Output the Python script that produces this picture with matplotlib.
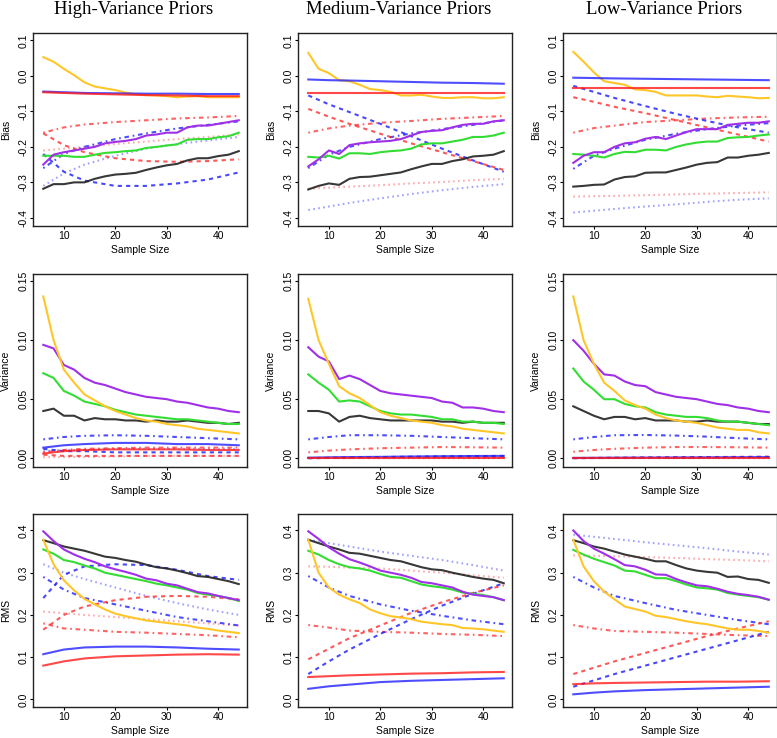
import matplotlib
matplotlib.use("Agg")
import matplotlib.pyplot as plt

plt.rcParams['font.family'] = ['Liberation Sans', 'DejaVu Sans']

# sample sizes
x_full = [6, 8, 10, 12, 14, 16, 18, 20, 22, 24, 26, 28, 30, 32, 34, 36, 38, 40, 42, 44]
x_s = [6, 10, 14, 20, 26, 32, 38, 44]   # smooth curves, read at fewer points

priors = ['hi', 'med', 'lo']
titles = ['High-Variance Priors', 'Medium-Variance Priors', 'Low-Variance Priors']
metrics = ['bias', 'var', 'rms']
ylabels = ['Bias', 'Variance', 'RMS']

# ---------------- Bias ----------------
bias_hi_gold = [0.053, 0.040, 0.020, 0.002, -0.018, -0.030, -0.035, -0.040, -0.047, -0.052, -0.054, -0.055, -0.057, -0.060, -0.058, -0.057, -0.060, -0.060, -0.060, -0.060]
bias_hi_purple = [-0.250, -0.222, -0.215, -0.210, -0.205, -0.200, -0.190, -0.186, -0.183, -0.178, -0.168, -0.165, -0.160, -0.160, -0.145, -0.140, -0.140, -0.135, -0.130, -0.125]
bias_hi_green = [-0.225, -0.225, -0.225, -0.228, -0.228, -0.222, -0.217, -0.215, -0.212, -0.210, -0.203, -0.200, -0.196, -0.193, -0.180, -0.178, -0.178, -0.173, -0.170, -0.160]
bias_hi_black = [-0.318, -0.305, -0.305, -0.300, -0.300, -0.290, -0.283, -0.278, -0.276, -0.273, -0.265, -0.258, -0.252, -0.248, -0.238, -0.232, -0.232, -0.226, -0.222, -0.212]
bias_hi_blue = [-0.044, -0.046, -0.048, -0.049, -0.050, -0.050, -0.051, -0.051]
bias_hi_red = [-0.046, -0.048, -0.050, -0.052, -0.054, -0.055, -0.057, -0.057]
bias_hi_blue_dash = [-0.220, -0.270, -0.295, -0.310, -0.310, -0.303, -0.292, -0.272]
bias_hi_red_dash = [-0.162, -0.195, -0.215, -0.232, -0.240, -0.242, -0.240, -0.235]
bias_hi_blue_dd = [-0.260, -0.220, -0.200, -0.178, -0.162, -0.148, -0.138, -0.128]
bias_hi_red_dd = [-0.160, -0.145, -0.137, -0.130, -0.125, -0.120, -0.117, -0.113]
bias_hi_blue_dot = [-0.310, -0.275, -0.250, -0.225, -0.205, -0.192, -0.182, -0.172]
bias_hi_red_dot = [-0.210, -0.205, -0.200, -0.192, -0.185, -0.178, -0.172, -0.165]

bias_med_gold = [0.065, 0.020, 0.008, -0.012, -0.015, -0.025, -0.037, -0.040, -0.045, -0.055, -0.055, -0.053, -0.058, -0.062, -0.062, -0.060, -0.060, -0.063, -0.063, -0.060]
bias_med_purple = [-0.255, -0.235, -0.210, -0.220, -0.195, -0.190, -0.187, -0.185, -0.183, -0.178, -0.168, -0.158, -0.155, -0.153, -0.145, -0.138, -0.135, -0.135, -0.128, -0.125]
bias_med_green = [-0.228, -0.230, -0.225, -0.233, -0.218, -0.218, -0.220, -0.215, -0.212, -0.210, -0.205, -0.193, -0.190, -0.190, -0.185, -0.180, -0.172, -0.172, -0.168, -0.160]
bias_med_black = [-0.320, -0.310, -0.303, -0.307, -0.290, -0.285, -0.284, -0.280, -0.276, -0.272, -0.263, -0.255, -0.248, -0.248, -0.240, -0.235, -0.227, -0.225, -0.222, -0.212]
bias_med_blue = [-0.010, -0.012, -0.013, -0.015, -0.017, -0.019, -0.020, -0.022]
bias_med_red = [-0.048, -0.048, -0.048, -0.048, -0.048, -0.048, -0.048, -0.048]
bias_med_blue_dash = [-0.055, -0.080, -0.102, -0.135, -0.170, -0.205, -0.238, -0.270]
bias_med_red_dash = [-0.093, -0.115, -0.135, -0.163, -0.190, -0.215, -0.240, -0.265]
bias_med_blue_dd = [-0.260, -0.222, -0.200, -0.178, -0.162, -0.150, -0.138, -0.125]
bias_med_red_dd = [-0.160, -0.148, -0.140, -0.132, -0.127, -0.121, -0.117, -0.113]
bias_med_blue_dot = [-0.378, -0.368, -0.358, -0.345, -0.333, -0.322, -0.313, -0.305]
bias_med_red_dot = [-0.318, -0.315, -0.312, -0.308, -0.303, -0.299, -0.294, -0.290]

bias_lo_gold = [0.068, 0.040, 0.010, -0.015, -0.020, -0.025, -0.038, -0.040, -0.045, -0.055, -0.055, -0.055, -0.055, -0.058, -0.060, -0.056, -0.058, -0.060, -0.063, -0.062]
bias_lo_purple = [-0.245, -0.225, -0.215, -0.215, -0.200, -0.190, -0.187, -0.177, -0.172, -0.178, -0.168, -0.158, -0.150, -0.150, -0.150, -0.138, -0.135, -0.132, -0.132, -0.128]
bias_lo_green = [-0.220, -0.222, -0.225, -0.230, -0.220, -0.214, -0.215, -0.208, -0.208, -0.210, -0.200, -0.193, -0.188, -0.185, -0.185, -0.175, -0.173, -0.172, -0.168, -0.165]
bias_lo_black = [-0.312, -0.310, -0.307, -0.306, -0.292, -0.285, -0.283, -0.273, -0.272, -0.272, -0.265, -0.258, -0.250, -0.245, -0.243, -0.230, -0.230, -0.225, -0.222, -0.217]
bias_lo_blue = [-0.005, -0.006, -0.007, -0.008, -0.009, -0.010, -0.011, -0.012]
bias_lo_red = [-0.034, -0.034, -0.034, -0.034, -0.034, -0.034, -0.034, -0.034]
bias_lo_blue_dash = [-0.028, -0.045, -0.062, -0.085, -0.107, -0.127, -0.145, -0.160]
bias_lo_red_dash = [-0.060, -0.073, -0.087, -0.105, -0.125, -0.145, -0.165, -0.185]
bias_lo_blue_dd = [-0.262, -0.225, -0.205, -0.180, -0.163, -0.150, -0.140, -0.133]
bias_lo_red_dd = [-0.160, -0.147, -0.140, -0.130, -0.125, -0.120, -0.117, -0.115]
bias_lo_blue_dot = [-0.385, -0.380, -0.375, -0.368, -0.362, -0.355, -0.349, -0.345]
bias_lo_red_dot = [-0.340, -0.339, -0.338, -0.336, -0.334, -0.332, -0.330, -0.328]

# ---------------- Variance ----------------
var_hi_gold = [0.137, 0.100, 0.075, 0.064, 0.054, 0.049, 0.044, 0.040, 0.037, 0.034, 0.032, 0.031, 0.029, 0.028, 0.027, 0.025, 0.024, 0.023, 0.022, 0.021]
var_hi_purple = [0.096, 0.093, 0.079, 0.075, 0.068, 0.064, 0.062, 0.059, 0.056, 0.054, 0.052, 0.051, 0.050, 0.048, 0.047, 0.045, 0.043, 0.042, 0.040, 0.039]
var_hi_green = [0.072, 0.068, 0.057, 0.053, 0.048, 0.046, 0.044, 0.041, 0.039, 0.037, 0.036, 0.035, 0.034, 0.033, 0.033, 0.032, 0.031, 0.030, 0.029, 0.029]
var_hi_black = [0.040, 0.042, 0.036, 0.036, 0.032, 0.034, 0.033, 0.033, 0.032, 0.032, 0.031, 0.032, 0.031, 0.031, 0.032, 0.031, 0.030, 0.030, 0.029, 0.030]
var_hi_blue = [0.009, 0.011, 0.012, 0.013, 0.013, 0.012, 0.012, 0.011]
var_hi_red = [0.004, 0.006, 0.007, 0.0075, 0.0075, 0.0075, 0.007, 0.007]
var_hi_blue_dash = [0.008, 0.006, 0.006, 0.005, 0.005, 0.005, 0.005, 0.005]
var_hi_red_dash = [0.003, 0.002, 0.002, 0.002, 0.002, 0.002, 0.002, 0.002]
var_hi_blue_dd = [0.016, 0.018, 0.019, 0.0195, 0.019, 0.018, 0.017, 0.016]
var_hi_red_dd = [0.005, 0.007, 0.008, 0.0085, 0.009, 0.009, 0.009, 0.009]
var_hi_blue_dot = [0.006, 0.007, 0.007, 0.008, 0.008, 0.008, 0.008, 0.008]
var_hi_red_dot = [0.001, 0.001, 0.001, 0.0015, 0.002, 0.002, 0.002, 0.002]

var_med_gold = [0.135, 0.100, 0.080, 0.061, 0.055, 0.051, 0.045, 0.039, 0.036, 0.034, 0.032, 0.031, 0.030, 0.028, 0.027, 0.025, 0.024, 0.023, 0.022, 0.021]
var_med_purple = [0.094, 0.086, 0.082, 0.067, 0.070, 0.067, 0.062, 0.057, 0.055, 0.054, 0.053, 0.052, 0.051, 0.048, 0.047, 0.043, 0.043, 0.042, 0.040, 0.039]
var_med_green = [0.071, 0.064, 0.058, 0.048, 0.049, 0.048, 0.044, 0.040, 0.038, 0.037, 0.037, 0.036, 0.035, 0.033, 0.033, 0.031, 0.031, 0.030, 0.030, 0.029]
var_med_black = [0.040, 0.040, 0.038, 0.031, 0.035, 0.036, 0.034, 0.033, 0.032, 0.032, 0.032, 0.032, 0.032, 0.031, 0.031, 0.030, 0.031, 0.030, 0.030, 0.030]
var_med_blue = [0.0005, 0.0008, 0.0010, 0.0012, 0.0015, 0.0017, 0.0019, 0.0020]
var_med_red = [0.0003, 0.0003, 0.0003, 0.0003, 0.0003, 0.0003, 0.0003, 0.0003]
var_med_blue_dash = [0.0000, 0.0003, 0.0006, 0.0010, 0.0013, 0.0016, 0.0018, 0.0020]
var_med_red_dash = [0.0002, 0.0004, 0.0006, 0.0008, 0.0010, 0.0011, 0.0012, 0.0013]
var_med_blue_dd = [0.016, 0.018, 0.0195, 0.0195, 0.019, 0.018, 0.017, 0.016]
var_med_red_dd = [0.005, 0.0065, 0.0075, 0.0085, 0.009, 0.0095, 0.0093, 0.009]
var_med_blue_dot = [0.0001, 0.0001, 0.0001, 0.0001, 0.0001, 0.0001, 0.0001, 0.0001]
var_med_red_dot = [0.0001, 0.0001, 0.0001, 0.0001, 0.0001, 0.0001, 0.0001, 0.0001]

var_lo_gold = [0.137, 0.100, 0.080, 0.064, 0.057, 0.049, 0.045, 0.042, 0.037, 0.034, 0.032, 0.031, 0.030, 0.028, 0.026, 0.025, 0.024, 0.024, 0.022, 0.021]
var_lo_purple = [0.100, 0.091, 0.080, 0.071, 0.070, 0.065, 0.062, 0.061, 0.056, 0.054, 0.052, 0.051, 0.050, 0.048, 0.046, 0.045, 0.043, 0.042, 0.040, 0.039]
var_lo_green = [0.076, 0.065, 0.058, 0.050, 0.050, 0.046, 0.044, 0.043, 0.039, 0.037, 0.036, 0.035, 0.035, 0.034, 0.032, 0.031, 0.031, 0.030, 0.029, 0.028]
var_lo_black = [0.044, 0.040, 0.036, 0.033, 0.035, 0.035, 0.033, 0.034, 0.032, 0.032, 0.032, 0.031, 0.031, 0.032, 0.031, 0.031, 0.031, 0.030, 0.029, 0.029]
var_lo_blue = [0.0003, 0.0004, 0.0005, 0.0006, 0.0007, 0.0008, 0.0009, 0.0010]
var_lo_red = [0.0001, 0.0001, 0.0001, 0.0001, 0.0001, 0.0001, 0.0001, 0.0001]
var_lo_blue_dash = [0.0000, 0.0002, 0.0003, 0.0005, 0.0007, 0.0009, 0.0010, 0.0012]
var_lo_red_dash = [0.0002, 0.0003, 0.0004, 0.0006, 0.0008, 0.0010, 0.0012, 0.0013]
var_lo_blue_dd = [0.016, 0.018, 0.0195, 0.0197, 0.0192, 0.0183, 0.017, 0.016]
var_lo_red_dd = [0.0055, 0.007, 0.008, 0.009, 0.0095, 0.0095, 0.0093, 0.009]
var_lo_blue_dot = [0.0001, 0.0001, 0.0001, 0.0001, 0.0001, 0.0001, 0.0001, 0.0001]
var_lo_red_dot = [0.0001, 0.0001, 0.0001, 0.0001, 0.0001, 0.0001, 0.0001, 0.0001]

# ---------------- RMS ----------------
rms_hi_gold = [0.378, 0.320, 0.282, 0.258, 0.238, 0.225, 0.213, 0.203, 0.197, 0.192, 0.187, 0.184, 0.181, 0.178, 0.175, 0.170, 0.167, 0.163, 0.160, 0.157]
rms_hi_purple = [0.398, 0.375, 0.355, 0.343, 0.333, 0.325, 0.315, 0.308, 0.302, 0.295, 0.286, 0.282, 0.274, 0.270, 0.262, 0.254, 0.251, 0.245, 0.240, 0.235]
rms_hi_green = [0.355, 0.345, 0.330, 0.325, 0.317, 0.310, 0.300, 0.295, 0.290, 0.285, 0.280, 0.274, 0.270, 0.265, 0.260, 0.252, 0.248, 0.245, 0.240, 0.233]
rms_hi_black = [0.377, 0.370, 0.362, 0.357, 0.352, 0.345, 0.338, 0.335, 0.330, 0.326, 0.319, 0.313, 0.310, 0.305, 0.299, 0.292, 0.290, 0.285, 0.280, 0.273]
rms_hi_blue = [0.107, 0.118, 0.123, 0.125, 0.125, 0.123, 0.120, 0.118]
rms_hi_red = [0.080, 0.090, 0.097, 0.102, 0.104, 0.106, 0.107, 0.106]
rms_hi_blue_dash = [0.240, 0.295, 0.315, 0.320, 0.318, 0.307, 0.292, 0.283]
rms_hi_red_dash = [0.165, 0.200, 0.220, 0.235, 0.243, 0.245, 0.243, 0.237]
rms_hi_blue_dd = [0.290, 0.260, 0.240, 0.225, 0.210, 0.195, 0.185, 0.175]
rms_hi_red_dd = [0.180, 0.168, 0.165, 0.160, 0.158, 0.155, 0.152, 0.147]
rms_hi_blue_dot = [0.320, 0.300, 0.285, 0.265, 0.245, 0.228, 0.213, 0.200]
rms_hi_red_dot = [0.208, 0.204, 0.200, 0.195, 0.190, 0.185, 0.180, 0.175]

rms_med_gold = [0.378, 0.300, 0.265, 0.248, 0.237, 0.228, 0.213, 0.204, 0.197, 0.194, 0.190, 0.184, 0.181, 0.178, 0.176, 0.169, 0.168, 0.166, 0.163, 0.160]
rms_med_purple = [0.398, 0.380, 0.360, 0.345, 0.332, 0.324, 0.315, 0.305, 0.300, 0.295, 0.288, 0.278, 0.275, 0.270, 0.265, 0.255, 0.248, 0.245, 0.242, 0.235]
rms_med_green = [0.352, 0.343, 0.330, 0.320, 0.313, 0.310, 0.305, 0.297, 0.290, 0.288, 0.280, 0.272, 0.268, 0.265, 0.260, 0.253, 0.250, 0.247, 0.242, 0.235]
rms_med_black = [0.378, 0.370, 0.362, 0.355, 0.347, 0.345, 0.340, 0.335, 0.330, 0.327, 0.320, 0.313, 0.308, 0.306, 0.300, 0.295, 0.290, 0.286, 0.283, 0.275]
rms_med_blue = [0.025, 0.031, 0.035, 0.041, 0.044, 0.046, 0.048, 0.050]
rms_med_red = [0.053, 0.055, 0.057, 0.059, 0.061, 0.062, 0.064, 0.065]
rms_med_blue_dash = [0.060, 0.090, 0.118, 0.155, 0.190, 0.222, 0.250, 0.275]
rms_med_red_dash = [0.095, 0.120, 0.145, 0.175, 0.205, 0.230, 0.252, 0.270]
rms_med_blue_dd = [0.292, 0.265, 0.245, 0.225, 0.210, 0.198, 0.187, 0.178]
rms_med_red_dd = [0.176, 0.170, 0.163, 0.160, 0.158, 0.155, 0.153, 0.150]
rms_med_blue_dot = [0.378, 0.370, 0.362, 0.350, 0.340, 0.330, 0.318, 0.305]
rms_med_red_dot = [0.315, 0.314, 0.312, 0.310, 0.305, 0.300, 0.294, 0.288]

rms_lo_gold = [0.378, 0.315, 0.280, 0.255, 0.237, 0.220, 0.214, 0.208, 0.198, 0.195, 0.190, 0.185, 0.181, 0.178, 0.173, 0.168, 0.165, 0.165, 0.162, 0.158]
rms_lo_purple = [0.400, 0.375, 0.357, 0.345, 0.332, 0.318, 0.315, 0.307, 0.296, 0.295, 0.285, 0.277, 0.270, 0.268, 0.262, 0.255, 0.250, 0.247, 0.243, 0.236]
rms_lo_green = [0.354, 0.343, 0.333, 0.325, 0.317, 0.305, 0.303, 0.295, 0.287, 0.287, 0.280, 0.272, 0.265, 0.263, 0.260, 0.252, 0.248, 0.245, 0.242, 0.236]
rms_lo_black = [0.377, 0.370, 0.362, 0.357, 0.350, 0.343, 0.338, 0.333, 0.327, 0.327, 0.318, 0.310, 0.305, 0.302, 0.300, 0.290, 0.291, 0.285, 0.283, 0.276]
rms_lo_blue = [0.012, 0.016, 0.019, 0.022, 0.024, 0.026, 0.028, 0.030]
rms_lo_red = [0.036, 0.038, 0.039, 0.040, 0.041, 0.042, 0.042, 0.043]
rms_lo_blue_dash = [0.030, 0.045, 0.060, 0.080, 0.100, 0.120, 0.140, 0.160]
rms_lo_red_dash = [0.060, 0.075, 0.090, 0.110, 0.130, 0.150, 0.168, 0.185]
rms_lo_blue_dd = [0.290, 0.265, 0.245, 0.228, 0.212, 0.200, 0.188, 0.178]
rms_lo_red_dd = [0.176, 0.168, 0.162, 0.160, 0.158, 0.155, 0.152, 0.150]
rms_lo_blue_dot = [0.390, 0.385, 0.380, 0.372, 0.365, 0.358, 0.350, 0.343]
rms_lo_red_dot = [0.341, 0.340, 0.339, 0.337, 0.335, 0.332, 0.330, 0.327]

# line styles: name -> (colour, dash pattern, alpha)
styles = {
    'blue_dot':  ('#5555ff', (0, (0.8, 1.6)), 0.55),
    'red_dot':   ('#ff4444', (0, (0.8, 1.6)), 0.45),
    'blue_dd':   ('#2222ff', (0, (0.8, 1.8, 2.2, 1.8)), 0.8),
    'red_dd':    ('#ff2222', (0, (0.8, 1.8, 2.2, 1.8)), 0.7),
    'blue_dash': ('#1a1aff', (0, (2.0, 2.0)), 0.8),
    'red_dash':  ('#ff2020', (0, (2.0, 2.0)), 0.75),
    'black':     ('#222222', '-', 0.9),
    'green':     ('#33dd33', '-', 1.0),
    'purple':    ('#a030e8', '-', 1.0),
    'gold':      ('#ffc62a', '-', 1.0),
    'blue':      ('#2222ff', '-', 0.8),
    'red':       ('#ff1a1a', '-', 0.8),
}
full_series = ['black', 'green', 'purple', 'gold']

ylims = {'bias': (-0.423, 0.121), 'var': (-0.0074, 0.156), 'rms': (-0.018, 0.439)}
yticks = {'bias': [-0.4, -0.3, -0.2, -0.1, 0.0, 0.1],
          'var': [0.0, 0.05, 0.10, 0.15],
          'rms': [0.0, 0.1, 0.2, 0.3, 0.4]}
ytick_fmt = {'bias': '{:.1f}', 'var': '{:.2f}', 'rms': '{:.1f}'}

W, H = 777, 738
fig = plt.figure(figsize=(W / 100, H / 100), dpi=100)

lefts = [33, 298, 563]
tops = [33, 274, 514]
aw, ah = 214, 193

data = globals()
for r, m in enumerate(metrics):
    for c, p in enumerate(priors):
        ax = fig.add_axes([lefts[c] / W, 1 - (tops[r] + ah) / H, aw / W, ah / H])
        for name, (col, ls, a) in styles.items():
            xs = x_full if name in full_series else x_s
            ax.plot(xs, data[f'{m}_{p}_{name}'], color=col, linestyle=ls,
                    lw=1.5, alpha=a)

        ax.set_xlim(4.0, 45.6)
        ax.set_ylim(*ylims[m])
        ax.set_xticks([10, 20, 30, 40])
        ax.set_yticks(yticks[m])
        ax.set_yticklabels([ytick_fmt[m].format(v) for v in yticks[m]],
                           rotation=90, va='center')
        ax.tick_params(length=2.5, width=0.8, labelsize=7.5, pad=1,
                       direction='out')
        for s in ax.spines.values():
            s.set_linewidth(1.0)
            s.set_color('#222222')

        ax.set_xlabel('Sample Size', fontsize=7.5)
        ax.xaxis.set_label_coords(0.5, -24 / ah)
        ax.xaxis.label.set_va('center')
        ax.set_ylabel(ylabels[r], fontsize=7.5)
        ax.yaxis.set_label_coords(-27 / aw, 0.5)
        ax.yaxis.label.set_va('center')

        if r == 0:
            fig.text((lefts[c] + aw / 2 - 6) / W, 1 - 10 / H, titles[c],
                     ha='center', va='center', fontsize=13.5,
                     family='Liberation Serif')

fig.savefig('out.png', dpi=100)
